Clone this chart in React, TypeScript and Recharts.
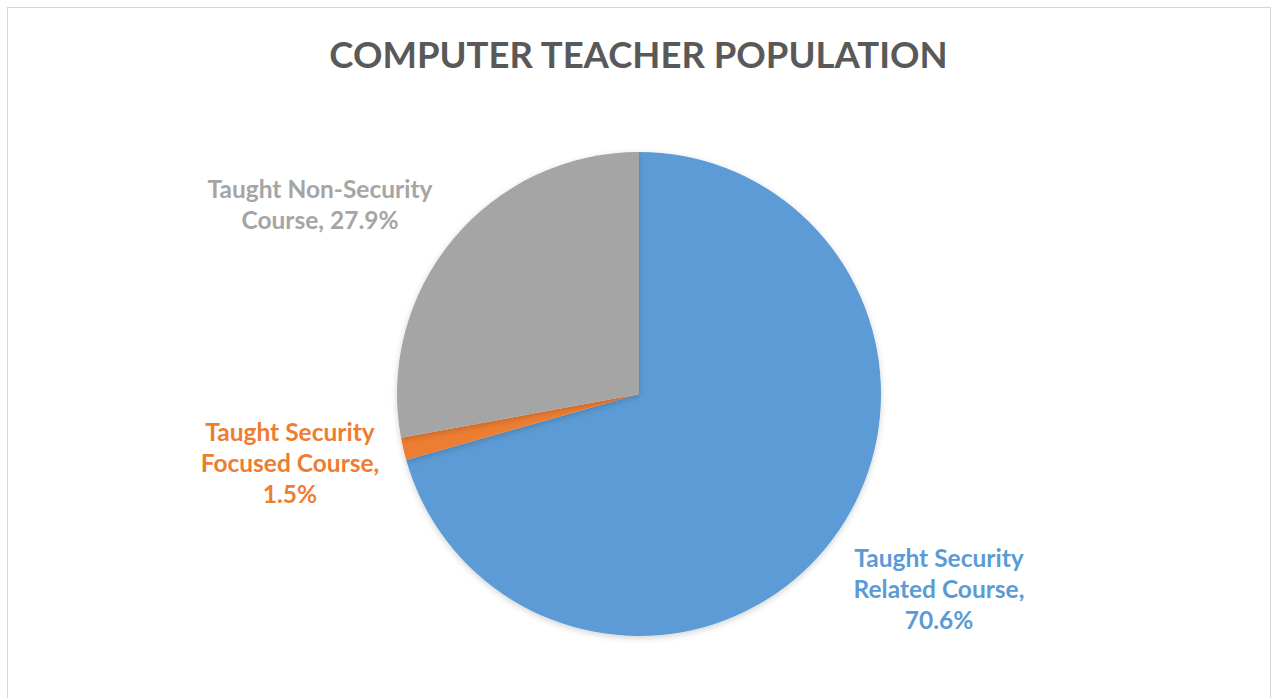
import React from "react";
import { PieChart, Pie, Cell } from "recharts";

const categories = [
  "Taught Security Related Course",
  "Taught Security Focused Course",
  "Taught Non-Security Course",
];
const shares = [70.6, 1.5, 27.9];
const colors = ["#5B9BD5", "#ED7D31", "#A5A5A5"];

// label lines, as Excel wrapped them
const labelLines = [
  ["Taught Security", "Related Course,", "70.6%"],
  ["Taught Security", "Focused Course,", "1.5%"],
  ["Taught Non-Security", "Course, 27.9%"],
];
// label centre relative to pie centre
const labelOffsets = [
  [300, 194],
  [-349, 68],
  [-319, -191],
];

const data = categories.map((name, i) => ({ name, value: shares[i] }));

const CX = 639;
const CY = 394;

const renderLabel = (props: any) => {
  const i = props.index;
  const lines = labelLines[i];
  const [dx, dy] = labelOffsets[i];
  const lh = 31;
  const x = props.cx + dx;
  const y0 = props.cy + dy - ((lines.length - 1) * lh) / 2;
  return (
    <text
      key={`lbl-${i}`}
      x={x}
      y={y0}
      textAnchor="middle"
      dominantBaseline="central"
      fill={colors[i]}
      style={{ fontFamily: "Lato, 'Open Sans', sans-serif", fontWeight: 700, fontSize: 24.5 }}
    >
      {lines.map((l, k) => (
        <tspan key={k} x={x} y={y0 + k * lh}>
          {l}
        </tspan>
      ))}
    </text>
  );
};

export default function App() {
  return (
    <div style={{ position: "absolute", left: 0, top: 0, width: 1271, height: 698, overflow: "hidden", background: "#fff" }}>
      <svg width={0} height={0} style={{ position: "absolute" }}>
        <defs>
          <filter id="pieShadow" x="-10%" y="-10%" width="120%" height="120%">
            <feDropShadow dx="0" dy="2" stdDeviation="3" floodColor="#000" floodOpacity="0.18" />
          </filter>
        </defs>
      </svg>
      <div
        style={{
          position: "absolute",
          left: 7,
          top: 7,
          width: 1262,
          height: 700,
          border: "1px solid #d6d6d6",
          boxSizing: "content-box",
        }}
      />
      <div
        style={{
          position: "absolute",
          top: 32,
          left: 0,
          width: 1277,
          textAlign: "center",
          fontFamily: "Lato, 'Open Sans', sans-serif",
          fontWeight: 700,
          fontSize: 36.5,
          color: "#595959",
        }}
      >
        COMPUTER TEACHER POPULATION
      </div>
      <div style={{ position: "absolute", left: 0, top: 0 }}>
        <PieChart width={1271} height={698} margin={{ top: 0, right: 0, bottom: 0, left: 0 }}>
          <Pie
            data={data}
            dataKey="value"
            nameKey="name"
            cx={CX}
            cy={CY}
            outerRadius={242}
            startAngle={90}
            endAngle={-270}
            stroke="none"
            label={renderLabel}
            labelLine={false}
            isAnimationActive={false}
            style={{ filter: "url(#pieShadow)" }}
          >
            {data.map((d, i) => (
              <Cell key={d.name} fill={colors[i]} />
            ))}
          </Pie>
        </PieChart>
      </div>
    </div>
  );
}
